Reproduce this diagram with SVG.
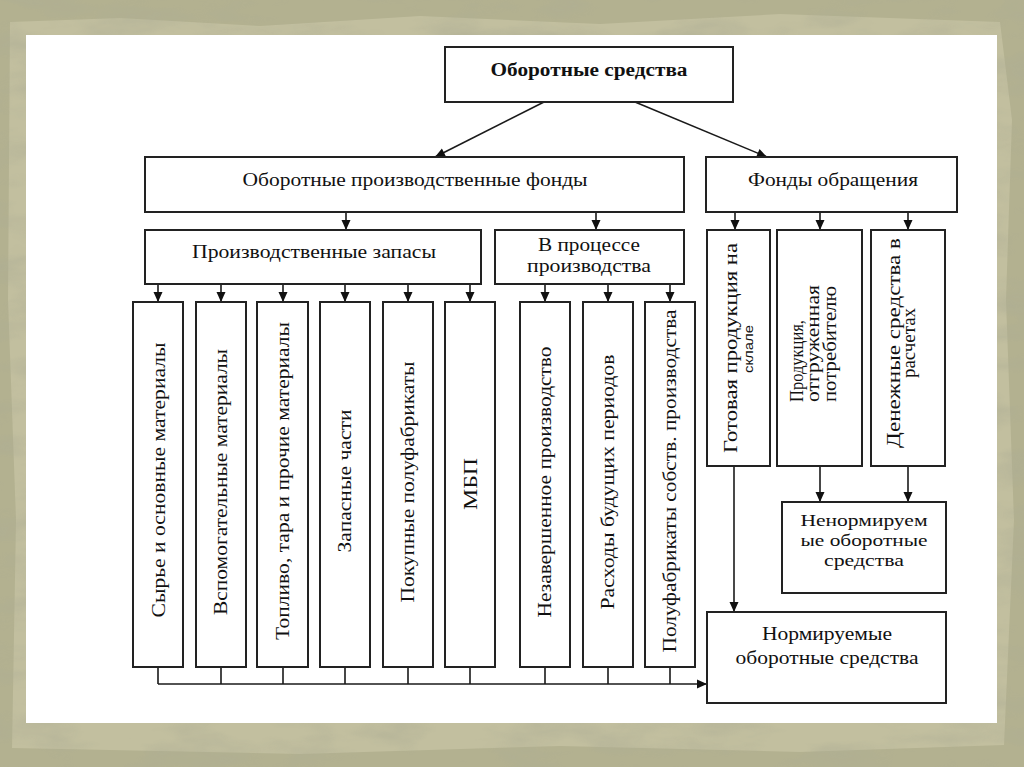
<svg xmlns="http://www.w3.org/2000/svg" width="1024" height="767" viewBox="0 0 1024 767">
<defs>
<style>
.box{fill:#fff;stroke:#222;stroke-width:2}
.t{font-family:"Liberation Serif","Times New Roman",serif;fill:#111;font-size:18px}
.b{font-weight:bold;font-size:18px}
.v{font-size:19px}
.s{font-family:"Liberation Sans",Arial,sans-serif;font-size:13px}
.w{font-size:19px}
.w2{font-size:16.5px}
.ln{fill:none;stroke:#1a1a1a;stroke-width:1.6}
.ar{marker-end:url(#ah)}
</style>
<marker id="ah" viewBox="0 0 10 10" refX="10" refY="5" markerWidth="11" markerHeight="10" markerUnits="userSpaceOnUse" orient="auto">
<path d="M0,0.5 L10,5 L0,9.5 z" fill="#111"/>
</marker>
<filter id="mottle" x="0" y="0" width="100%" height="100%">
<feTurbulence type="fractalNoise" baseFrequency="0.012 0.035" numOctaves="4" seed="7" result="n"/>
<feColorMatrix in="n" type="matrix" values="0 0 0 0 0.42  0 0 0 0 0.42  0 0 0 0 0.30  0 0 0 1.8 -0.75"/>
</filter>
</defs>

<g id="background">
<rect x="0" y="0" width="1024" height="767" fill="#b3b190"/>
<path d="M10,22 L120,18 L260,26 L420,16 L600,24 L780,14 L1000,22 L1012,120 L1006,300 L1014,520 L1004,745 L800,752 L560,746 L300,754 L12,748 L16,520 L8,300 Z" fill="#c2bf9f"/>
<rect x="0" y="0" width="1024" height="767" fill="#000" filter="url(#mottle)" opacity="0.7"/>
<rect x="26" y="35" width="971" height="688" fill="#fff"/>
</g>

<g id="connectors">
<line class="ln ar" x1="544" y1="102" x2="435" y2="157"/>
<line class="ln ar" x1="635" y1="102" x2="767" y2="157"/>
<line class="ln ar" x1="346" y1="212" x2="346" y2="230"/>
<line class="ln ar" x1="596" y1="212" x2="596" y2="230"/>
<line class="ln ar" x1="735" y1="212" x2="735" y2="230"/>
<line class="ln ar" x1="820" y1="212" x2="820" y2="230"/>
<line class="ln ar" x1="908" y1="212" x2="908" y2="230"/>
<line class="ln ar" x1="158" y1="284" x2="158" y2="302"/>
<line class="ln ar" x1="221" y1="284" x2="221" y2="302"/>
<line class="ln ar" x1="283" y1="284" x2="283" y2="302"/>
<line class="ln ar" x1="345" y1="284" x2="345" y2="302"/>
<line class="ln ar" x1="408" y1="284" x2="408" y2="302"/>
<line class="ln ar" x1="470" y1="284" x2="470" y2="302"/>
<line class="ln ar" x1="545" y1="284" x2="545" y2="302"/>
<line class="ln ar" x1="608" y1="284" x2="608" y2="302"/>
<line class="ln ar" x1="670" y1="284" x2="670" y2="302"/>
<path class="ln" d="M158,667 V684 M221,667 V684 M283,667 V684 M345,667 V684 M408,667 V684 M470,667 V684 M545,667 V684 M608,667 V684 M670,667 V684"/>
<line class="ln ar" x1="158" y1="684" x2="707" y2="684"/>
<line class="ln ar" x1="734" y1="466" x2="734" y2="612"/>
<line class="ln ar" x1="820" y1="466" x2="820" y2="502"/>
<line class="ln ar" x1="908" y1="466" x2="908" y2="502"/>
</g>

<g id="n-oborotnye-sredstva">
<rect class="box" x="445" y="47" width="288" height="55"/>
<text class="t b" x="589" y="76" text-anchor="middle" textLength="197" lengthAdjust="spacingAndGlyphs">Оборотные средства</text>
</g>
<g id="n-opf">
<rect class="box" x="145" y="157" width="539" height="55"/>
<text class="t" x="415" y="186" text-anchor="middle" textLength="345" lengthAdjust="spacingAndGlyphs">Оборотные производственные фонды</text>
</g>
<g id="n-fo">
<rect class="box" x="706" y="157" width="251" height="55"/>
<text class="t" x="833" y="186" text-anchor="middle" textLength="170" lengthAdjust="spacingAndGlyphs">Фонды обращения</text>
</g>
<g id="n-pz">
<rect class="box" x="145" y="230" width="336" height="54"/>
<text class="t" x="314" y="258" text-anchor="middle" textLength="244" lengthAdjust="spacingAndGlyphs">Производственные запасы</text>
</g>
<g id="n-vpp">
<rect class="box" x="495" y="230" width="189" height="54"/>
<text class="t" x="589" y="251" text-anchor="middle" textLength="102" lengthAdjust="spacingAndGlyphs">В процессе</text>
<text class="t" x="589" y="272" text-anchor="middle" textLength="124" lengthAdjust="spacingAndGlyphs">производства</text>
</g>

<g id="n-syre">
<rect class="box" x="133" y="302" width="50" height="365"/>
<text class="t v" transform="translate(165,480) rotate(-90)" text-anchor="middle" textLength="275" lengthAdjust="spacingAndGlyphs">Сырье и основные материалы</text>
</g>
<g id="n-vspom">
<rect class="box" x="196" y="302" width="50" height="365"/>
<text class="t v" transform="translate(227,482) rotate(-90)" text-anchor="middle" textLength="266" lengthAdjust="spacingAndGlyphs">Вспомогательные материалы</text>
</g>
<g id="n-toplivo">
<rect class="box" x="257" y="302" width="51" height="365"/>
<text class="t v" transform="translate(289,481) rotate(-90)" text-anchor="middle" textLength="318" lengthAdjust="spacingAndGlyphs">Топливо, тара и прочие материалы</text>
</g>
<g id="n-zapchasti">
<rect class="box" x="320" y="302" width="50" height="365"/>
<text class="t v" transform="translate(351,481) rotate(-90)" text-anchor="middle" textLength="143" lengthAdjust="spacingAndGlyphs">Запасные части</text>
</g>
<g id="n-pokupnye">
<rect class="box" x="383" y="302" width="50" height="365"/>
<text class="t v" transform="translate(414,482) rotate(-90)" text-anchor="middle" textLength="241" lengthAdjust="spacingAndGlyphs">Покупные полуфабрикаты</text>
</g>
<g id="n-mbp">
<rect class="box" x="445" y="302" width="50" height="365"/>
<text class="t v" transform="translate(477,484) rotate(-90)" text-anchor="middle" textLength="52" lengthAdjust="spacingAndGlyphs">МБП</text>
</g>
<g id="n-nezav">
<rect class="box" x="520" y="302" width="50" height="365"/>
<text class="t v" transform="translate(551,482) rotate(-90)" text-anchor="middle" textLength="271" lengthAdjust="spacingAndGlyphs">Незавершенное производство</text>
</g>
<g id="n-rashody">
<rect class="box" x="583" y="302" width="50" height="365"/>
<text class="t v" transform="translate(614,482) rotate(-90)" text-anchor="middle" textLength="255" lengthAdjust="spacingAndGlyphs">Расходы будущих периодов</text>
</g>
<g id="n-polufab-sobstv">
<rect class="box" x="645" y="302" width="50" height="365"/>
<text class="t v" transform="translate(676,481) rotate(-90)" text-anchor="middle" textLength="343" lengthAdjust="spacingAndGlyphs">Полуфабрикаты собств. производства</text>
</g>

<g id="n-gotovaya">
<rect class="box" x="707" y="230" width="63" height="236"/>
<text class="t" transform="translate(737,348) rotate(-90)" text-anchor="middle" textLength="210" lengthAdjust="spacingAndGlyphs">Готовая продукция на</text>
<text class="t s" transform="translate(753,349) rotate(-90)" text-anchor="middle" textLength="48" lengthAdjust="spacingAndGlyphs">склале</text>
</g>
<g id="n-otgruzhennaya">
<rect class="box" x="777" y="230" width="85" height="236"/>
<text class="t" transform="translate(803,402) rotate(-90)" textLength="82" lengthAdjust="spacingAndGlyphs">Продукция,</text>
<text class="t" transform="translate(819,402) rotate(-90)" textLength="117" lengthAdjust="spacingAndGlyphs">отгруженная</text>
<text class="t" transform="translate(836,402) rotate(-90)" textLength="116" lengthAdjust="spacingAndGlyphs">потребителю</text>
</g>
<g id="n-denezhnye">
<rect class="box" x="871" y="230" width="74" height="236"/>
<text class="t" transform="translate(900,343) rotate(-90)" text-anchor="middle" textLength="210" lengthAdjust="spacingAndGlyphs">Денежные средства в</text>
<text class="t" transform="translate(915,343) rotate(-90)" text-anchor="middle" textLength="70" lengthAdjust="spacingAndGlyphs">расчетах</text>
</g>

<g id="n-nenormiruemye">
<rect class="box" x="782" y="502" width="164" height="91"/>
<text class="t w2" x="864" y="526" text-anchor="middle" textLength="127" lengthAdjust="spacingAndGlyphs">Ненормируем</text>
<text class="t w2" x="864" y="546" text-anchor="middle" textLength="127" lengthAdjust="spacingAndGlyphs">ые оборотные</text>
<text class="t w2" x="864" y="566" text-anchor="middle" textLength="80" lengthAdjust="spacingAndGlyphs">средства</text>
</g>
<g id="n-normiruemye">
<rect class="box" x="707" y="612" width="239" height="91"/>
<text class="t w" x="827" y="640" text-anchor="middle" textLength="130" lengthAdjust="spacingAndGlyphs">Нормируемые</text>
<text class="t w" x="827" y="664" text-anchor="middle" textLength="183" lengthAdjust="spacingAndGlyphs">оборотные средства</text>
</g>
</svg>
